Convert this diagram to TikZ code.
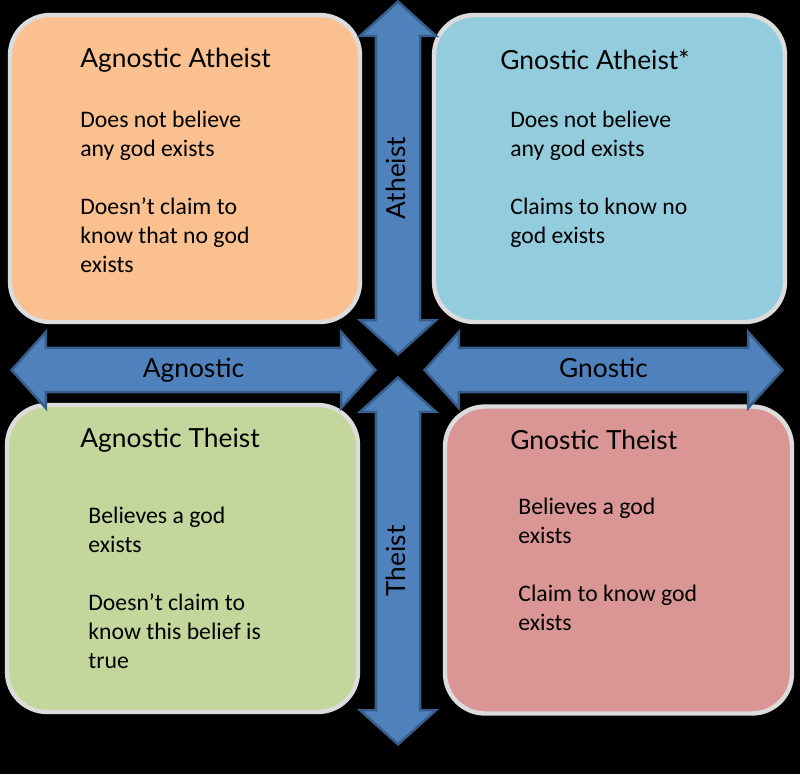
\documentclass[tikz,border=0pt]{standalone}
\usepackage{fontspec}
\setmainfont{Carlito}
\newfontfamily\gillfont{Lato}
\usepackage{tikz}
\usetikzlibrary{shapes.arrows}
\definecolor{aaorange}{HTML}{FAC090}
\definecolor{gablue}{HTML}{93CDDD}
\definecolor{atgreen}{HTML}{C3D69B}
\definecolor{gtred}{HTML}{D99694}
\definecolor{axisfill}{HTML}{4F81BD}
\definecolor{axisline}{HTML}{385D8A}
\definecolor{quadline}{HTML}{DCDCDC}

\begin{document}
\begin{tikzpicture}[
    x=0.02cm, y=-0.02cm,
    quad/.style={draw=quadline, line width=2.5pt, rounded corners=0.8cm,
                 minimum height=6.14cm, inner sep=0pt},
    ttl/.style={anchor=west, inner sep=0pt,
                font=\gillfont\fontsize{15}{18}\selectfont},
    txt/.style={anchor=north west, inner sep=0pt, align=left,
                font=\fontsize{13.5}{16.5}\selectfont},
    axis/.style={double arrow, draw=axisline, fill=axisfill, line width=1.4pt,
                 double arrow head extend=0.32cm, double arrow tip angle=96,
                 inner xsep=0pt, inner ysep=4.9pt, align=center,
                 text height=11pt, text depth=3pt, minimum width=0pt,
                 font=\gillfont\fontsize{15}{18}\selectfont},
  ]

  \path[use as bounding box, fill=black] (0,0) rectangle (800,774);

  %% ---- the four quadrants --------------------------------------------
  \node[quad, fill=aaorange, minimum width=7.00cm] (AA) at (185,168.5) {};
  \node[quad, fill=gablue,   minimum width=7.02cm] (GA) at (609.5,168.5) {};
  \node[quad, fill=atgreen,  minimum width=7.02cm] (AT) at (182.5,558.5) {};
  \node[quad, fill=gtred,    minimum width=6.94cm] (GT) at (618.5,560) {};

  %% ---- axes ----------------------------------------------------------
  \node[axis, text width=6.43cm] (agn) at (193.5,370) {Agnostic};
  \node[axis, text width=6.31cm] (gno) at (603.5,370) {Gnostic};
  \node[axis, rotate=90, text width=6.21cm] (ath) at (398,178) {Atheist};
  \node[axis, rotate=90, text width=6.49cm] (the) at (398,561) {Theist};

  %% ---- titles and text -----------------------------------------------
  \node[ttl] (AAt) at (80,60)   {Agnostic Atheist};
  \node[ttl] (GAt) at (500,60)  {Gnostic Atheist*};
  \node[ttl] (ATt) at (80,440)  {Agnostic Theist};
  \node[ttl] (GTt) at (510,440) {Gnostic Theist};

  \node[txt] (AAb) at (80,111)  {Does not believe\\ any god exists\\[16.5pt]
                                 Doesn't claim to\\ know that no god\\ exists};
  \node[txt] (GAb) at (510,111) {Does not believe\\ any god exists\\[16.5pt]
                                 Claims to know no\\ god exists};
  \node[txt] (ATb) at (88,507)  {Believes a god\\ exists\\[16.5pt]
                                 Doesn't claim to\\ know this belief is\\ true};
  \node[txt] (GTb) at (518,498) {Believes a god\\ exists\\[16.5pt]
                                 Claim to know god\\ exists};

\end{tikzpicture}
\end{document}
